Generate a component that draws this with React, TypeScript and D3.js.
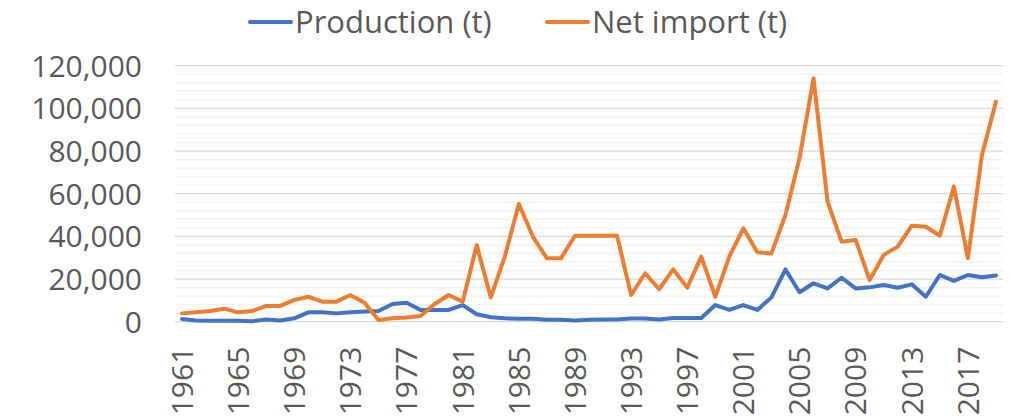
import React, { useRef, useEffect } from 'react';
import * as d3 from 'd3';

const years: number[] = d3.range(1961, 2020);

const production: number[] = [
  1300, 600, 500, 500, 500, 200, 1000, 600, 1600, 4400,
  4400, 3900, 4400, 4800, 5000, 8300, 8900, 5500, 5500, 5500,
  7800, 3500, 2100, 1600, 1400, 1400, 900, 900, 600, 900,
  1000, 1000, 1500, 1500, 1000, 1700, 1700, 1700, 7800, 5500,
  7800, 5500, 11400, 24500, 13800, 18000, 15600, 20600, 15600, 16100,
  17200, 15900, 17500, 11700, 21900, 19100, 21900, 20800, 21700,
];

const netImport: number[] = [
  3900, 4400, 5000, 6100, 4400, 5000, 7400, 7400, 10200, 11700,
  9400, 9400, 12500, 8900, 800, 1600, 2000, 2700, 8300, 12500,
  9400, 35900, 11400, 30500, 55200, 39900, 29700, 29700, 40300, 40300,
  40300, 40300, 12500, 22700, 15200, 24500, 16000, 30500, 11700, 30500,
  43800, 32500, 32000, 50000, 76600, 114100, 56300, 37500, 38300, 19500,
  31300, 35200, 45000, 44500, 40300, 63300, 29700, 78100, 103100,
];

const xTickLabels: number[] = [1961, 1965, 1969, 1973, 1977, 1981, 1985, 1989, 1993, 1997, 2001, 2005, 2009, 2013, 2017];
const yMajorTicks: number[] = [0, 20000, 40000, 60000, 80000, 100000, 120000];

const seriesNames = ['Production (t)', 'Net import (t)'];
const seriesColors = ['#4472C4', '#ED7D31'];

const W = 1010;
const H = 419;
const FONT = '"Open Sans", "Liberation Sans", sans-serif';

const App: React.FC = () => {
  const ref = useRef<SVGSVGElement | null>(null);

  useEffect(() => {
    if (!ref.current) return;
    const svg = d3.select(ref.current);
    svg.selectAll('*').remove();

    const left = 175, right = 1003, top = 65.7, bottom = 321.7;

    const x = d3.scalePoint<number>().domain(years).range([left, right]).padding(0.5);
    const y = d3.scaleLinear().domain([0, 120000]).range([bottom, top]);

    // minor gridlines every 4,000
    const minor = d3.range(0, 120001, 4000).filter(v => v % 20000 !== 0);
    svg.append('g').selectAll('line').data(minor).join('line')
      .attr('x1', left).attr('x2', right)
      .attr('y1', d => y(d)).attr('y2', d => y(d))
      .attr('stroke', '#f2f2f2').attr('stroke-width', 1.3);

    // major gridlines
    svg.append('g').selectAll('line').data(yMajorTicks).join('line')
      .attr('x1', left).attr('x2', right)
      .attr('y1', d => y(d)).attr('y2', d => y(d))
      .attr('stroke', '#d9d9d9').attr('stroke-width', 1.3);

    // y labels
    svg.append('g').selectAll('text').data(yMajorTicks).join('text')
      .attr('x', 142).attr('y', d => y(d)).attr('dy', '0.36em')
      .attr('text-anchor', 'end')
      .attr('font-family', FONT).attr('font-size', 30).attr('fill', '#595959')
      .text(d => d3.format(',')(d));

    // x labels rotated
    svg.append('g').selectAll('text').data(xTickLabels).join('text')
      .attr('transform', d => `translate(${x(d)},${bottom + 25}) rotate(-90)`)
      .attr('dy', '0.36em')
      .attr('text-anchor', 'end')
      .attr('font-family', FONT).attr('font-size', 30).attr('fill', '#595959')
      .text(d => String(d));

    const line = d3.line<number>()
      .x((_, i) => x(years[i]) as number)
      .y(d => y(d));

    [production, netImport].forEach((vals, i) => {
      svg.append('path')
        .datum(vals)
        .attr('fill', 'none')
        .attr('stroke', seriesColors[i])
        .attr('stroke-width', 4)
        .attr('stroke-linejoin', 'round')
        .attr('stroke-linecap', 'round')
        .attr('d', line);
    });

    // legend
    const legendX = [250, 547];
    seriesNames.forEach((name, i) => {
      const g = svg.append('g').attr('transform', `translate(${legendX[i]},22)`);
      g.append('line').attr('x1', 0).attr('x2', 41).attr('y1', 0).attr('y2', 0)
        .attr('stroke', seriesColors[i]).attr('stroke-width', 4).attr('stroke-linecap', 'round');
      g.append('text').attr('x', 45).attr('y', 0).attr('dy', '0.36em')
        .attr('font-family', FONT).attr('font-size', 31).attr('fill', '#595959')
        .text(name);
    });
  }, []);

  return (
    <svg ref={ref} width={W} height={H}
      style={{ position: 'absolute', left: 0, top: 0, background: '#fff' }} />
  );
};

export default App;
